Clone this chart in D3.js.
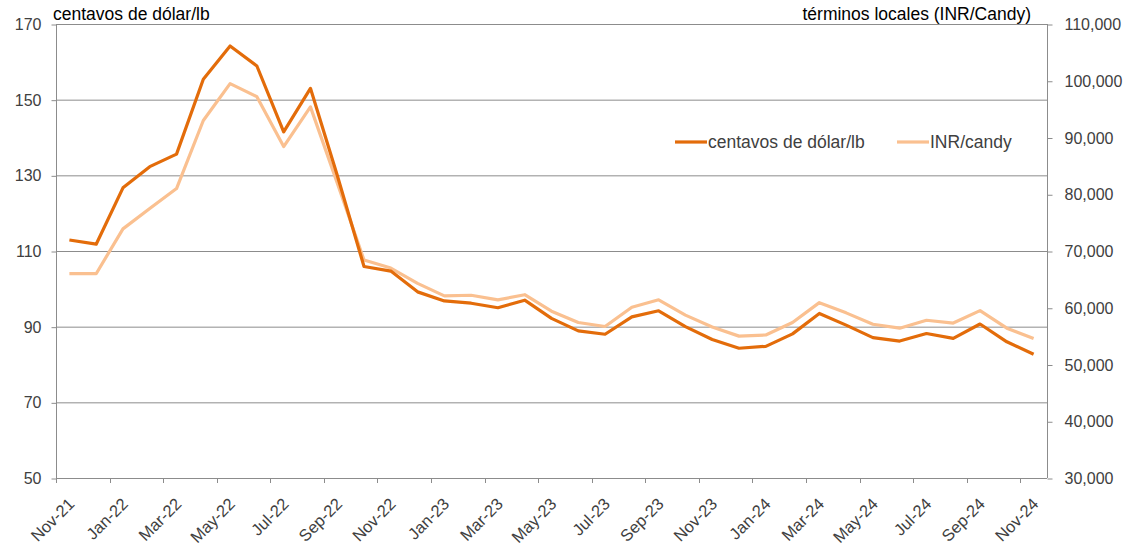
<!DOCTYPE html>
<html>
<head>
<meta charset="utf-8">
<script src="https://cdn.jsdelivr.net/npm/d3@7"></script>
<style>
  body { margin: 0; background: #fff; }
  text { font-family: "Liberation Sans", Arial, sans-serif; fill: #404040; }
</style>
</head>
<body>
<div class="container__chart"></div>
<script>
// data
const MONTHS = ["Nov-21","Dec-21","Jan-22","Feb-22","Mar-22","Apr-22","May-22","Jun-22","Jul-22","Aug-22","Sep-22","Oct-22",
  "Nov-22","Dec-22","Jan-23","Feb-23","Mar-23","Apr-23","May-23","Jun-23","Jul-23","Aug-23","Sep-23","Oct-23",
  "Nov-23","Dec-23","Jan-24","Feb-24","Mar-24","Apr-24","May-24","Jun-24","Jul-24","Aug-24","Sep-24","Oct-24","Nov-24"];
const CENTS_LB = [112.9,111.8,126.7,132.3,135.6,155.4,164.2,158.9,141.5,153.0,130.0,105.9,
  104.7,99.2,96.8,96.2,95.0,97.0,92.2,88.9,88.0,92.6,94.2,90.0,
  86.6,84.3,84.8,88.1,93.5,90.4,87.1,86.2,88.2,86.9,90.7,86.0,82.7];
const INR_CANDY = [66000,66000,73900,77500,81000,93000,99500,97200,88400,95400,82000,68400,
  67000,64300,62100,62200,61400,62300,59400,57400,56700,60100,61400,58700,
  56600,55000,55200,57400,60900,59100,57100,56400,57800,57300,59500,56400,54600];
const LEFT_TICKS = [50,70,90,110,130,150,170];
const RIGHT_TICKS = [30000,40000,50000,60000,70000,80000,90000,100000,110000];
const SERIES_NAMES = ["centavos de dólar/lb","INR/candy"];

const W = 1133, H = 546;
const M = {left: 56, right: 1047, top: 24, bottom: 478};
const DARK = "#E36C0A", LIGHT = "#FAC090", GRID = "#8c8c8c";

const svg = d3.select(".container__chart").append("svg")
  .attr("width", W).attr("height", H);

const x = d3.scaleBand().domain(MONTHS).range([M.left, M.right]);
const yL = d3.scaleLinear().domain([50,170]).range([M.bottom, M.top]);
const yR = d3.scaleLinear().domain([30000,110000]).range([M.bottom, M.top]);

// gridlines
svg.append("g").selectAll("line").data(LEFT_TICKS.filter(d => d > 50)).enter().append("line")
  .attr("x1", M.left).attr("x2", M.right)
  .attr("y1", d => yL(d) + 0.5).attr("y2", d => yL(d) + 0.5)
  .attr("stroke", GRID).attr("stroke-width", 1);

// left + right axes
const leftAxis = svg.append("g").attr("transform", `translate(${M.left + 0.5},0.5)`)
  .call(d3.axisLeft(yL).tickValues(LEFT_TICKS).tickSize(5).tickPadding(10));
const rightAxis = svg.append("g").attr("transform", `translate(${M.right + 0.5},0.5)`)
  .call(d3.axisRight(yR).tickValues(RIGHT_TICKS).tickSize(5).tickPadding(12).tickFormat(d3.format(",")));
[leftAxis, rightAxis].forEach(a => {
  a.select(".domain").remove();
  a.selectAll(".tick line").attr("stroke", GRID);
  a.selectAll(".tick text").style("font-size", "16px").attr("fill", "#404040");
});
svg.append("line").attr("x1", M.left + 0.5).attr("x2", M.left + 0.5).attr("y1", M.top).attr("y2", M.bottom)
  .attr("stroke", GRID);
svg.append("line").attr("x1", M.right + 0.5).attr("x2", M.right + 0.5).attr("y1", M.top).attr("y2", M.bottom)
  .attr("stroke", GRID);

// x axis
svg.append("line").attr("x1", M.left).attr("x2", M.right).attr("y1", M.bottom + 0.5).attr("y2", M.bottom + 0.5)
  .attr("stroke", GRID);
const bw = x.bandwidth();
const tickIdx = d3.range(0, MONTHS.length + 1, 2);
svg.append("g").selectAll("line").data(tickIdx).enter().append("line")
  .attr("x1", i => Math.round(M.left + i * bw) + 0.5).attr("x2", i => Math.round(M.left + i * bw) + 0.5)
  .attr("y1", M.bottom).attr("y2", M.bottom + 5).attr("stroke", GRID);
svg.append("g").selectAll("text").data(MONTHS.filter((d, i) => i % 2 === 0)).enter().append("text")
  .attr("transform", d => `translate(${x(d) + bw / 2 + 6},${M.bottom + 27}) rotate(-45)`)
  .attr("text-anchor", "end")
  .style("font-size", "16.5px")
  .text(d => d);

// lines
const lineL = d3.line().x((d, i) => x(MONTHS[i]) + bw / 2).y(d => yL(d));
const lineR = d3.line().x((d, i) => x(MONTHS[i]) + bw / 2).y(d => yR(d));
svg.append("path").datum(INR_CANDY).attr("d", lineR)
  .attr("fill", "none").attr("stroke", LIGHT).attr("stroke-width", 3.2).attr("stroke-linejoin", "round");
svg.append("path").datum(CENTS_LB).attr("d", lineL)
  .attr("fill", "none").attr("stroke", DARK).attr("stroke-width", 3.2).attr("stroke-linejoin", "round");

// axis titles
svg.append("text").attr("x", 53).attr("y", 20).style("font-size", "17.5px")
  .style("fill", "#000").text("centavos de dólar/lb");
svg.append("text").attr("x", 1031).attr("y", 20).attr("text-anchor", "end").style("font-size", "17.5px")
  .style("fill", "#000").text("términos locales (INR/Candy)");

// legend
const legend = svg.append("g");
const legendItems = [{name: SERIES_NAMES[0], color: DARK, x: 675}, {name: SERIES_NAMES[1], color: LIGHT, x: 897}];
legendItems.forEach(it => {
  legend.append("line").attr("x1", it.x).attr("x2", it.x + 32).attr("y1", 142).attr("y2", 142)
    .attr("stroke", it.color).attr("stroke-width", 3.2);
  legend.append("text").attr("x", it.x + 33).attr("y", 148).style("font-size", "17.5px").text(it.name);
});
</script>
</body>
</html>
